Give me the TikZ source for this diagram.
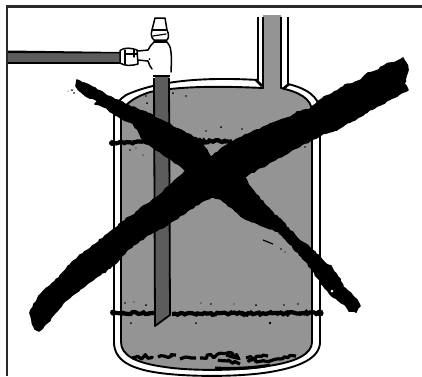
\documentclass[tikz,border=0pt]{standalone}
\usetikzlibrary{decorations.pathmorphing}
\definecolor{tankgray}{gray}{0.58}
\definecolor{pipegray}{gray}{0.36}
\definecolor{framegray}{gray}{0.16}
\tikzset{
  ink/.style={draw=black,line width=1.5pt,line join=round,line cap=round},
  wall/.style={draw=black,line width=1.9pt,line join=round},
  weld/.style={draw=black,line width=4.2pt,decorate,decoration={random steps,segment length=2pt,amplitude=1.1pt}},
  crud/.style={draw=black,line width=3.2pt,line join=round,decorate,decoration={random steps,segment length=3pt,amplitude=2pt}},
  speck/.style={fill=black,draw=none},
  slash/.style={fill=black,draw=black,line width=1.6pt,line join=round,decorate,decoration={random steps,segment length=3pt,amplitude=.8pt}}
}
\pgfmathsetseed{7}
\begin{document}
\begin{tikzpicture}[x=1pt,y=-1pt]
\useasboundingbox (0,0) rectangle (422,376);
\fill[white] (0,0) rectangle (422,376);
% frame
\fill[framegray] (6,5) rectangle (422,8);
\fill[framegray] (6,5) rectangle (8.2,376);
% tank outer wall, open at the neck
\draw[wall] (258,17) -- (258,80) .. controls (190,76) and (150,84) .. (126,95)
  .. controls (120,99) and (114,104) .. (114,118) -- (114,342)
  .. controls (114,360) and (130,369) .. (160,373) .. controls (190,377) and (240,377) .. (270,372)
  .. controls (300,367) and (320,358) .. (320,342) -- (320,112)
  .. controls (320,96) and (305,88) .. (288,84) -- (288,17);
% tank inner
\fill[tankgray] (121,342) -- (121,118) .. controls (121,106) and (132,98) .. (150,92)
  .. controls (180,86) and (220,86) .. (263,88) -- (263,15) -- (281,15) -- (281,88)
  .. controls (298,92) and (312,98) .. (312,112) -- (312,342)
  .. controls (312,354) and (296,362) .. (268,366) .. controls (240,371) and (190,371) .. (165,367)
  .. controls (135,363) and (121,355) .. (121,342) -- cycle;
\draw[wall] (263,17) -- (263,88) .. controls (220,86) and (180,86) .. (150,92)
  .. controls (132,98) and (121,106) .. (121,118) -- (121,342)
  .. controls (121,355) and (135,363) .. (165,367) .. controls (190,371) and (240,371) .. (268,366)
  .. controls (296,362) and (312,354) .. (312,342) -- (312,112)
  .. controls (312,98) and (298,92) .. (281,88) -- (281,17);
\draw[line width=2.6pt] (256,80) -- (262,86);
\draw[line width=2.6pt] (289,84) -- (283,89);
% welds
\draw[weld] (112,143) -- (150,142);
\draw[weld] (170,142) -- (232,141);
\draw[weld] (112,313) -- (155,313);
\draw[weld] (172,314) -- (322,313);
\fill[black] (112,143) circle (3pt) (113,312.5) circle (3pt) (320,313) circle (3.6pt);
% sediment
\draw[crud] (132,358) -- (152,356);
\draw[crud] (158,357) -- (176,355);
\draw[crud] (180,359) -- (186,357) -- (196,358);
\draw[crud] (200,358) -- (232,353) -- (238,358);
\draw[crud] (226,355) -- (240,358);
\draw[crud] (246,358) -- (268,356);
\draw[crud] (248,362) -- (280,359) -- (296,356);
\draw[crud] (218,360) -- (240,364);
\draw[line width=3pt] (215,368) .. controls (235,369) and (255,368) .. (270,365);
% specks
\foreach \p/\r in {{(147,103)}/1,{(146,96)}/.8,{(173,93)}/1,{(186,96)}/.8,{(130,150)}/.8,{(136,148)}/.6,{(143,155)}/.6,{(221,127)}/1,{(242,129)}/.8,{(206,131)}/.8,{(305,147)}/.8,{(125,303)}/.8,{(134,302)}/.6,{(146,305)}/1,{(131,323)}/1,{(196,323)}/1,{(211,304)}/.8,{(234,304)}/.6,{(256,305)}/1,{(284,305)}/.9,{(298,304)}/.8,{(270,323)}/1.4,{(201,303)}/.6,{(72,90)}/1,{(68,91)}/.5,{(74,93)}/.9}
  \fill[speck] \p circle (\r pt);
% dip tube
\fill[pipegray] (155,76) -- (169,76) -- (170,315) -- (155,326) -- cycle;
\draw[black,line width=1.8pt,line join=round] (169,78) -- (170,315) -- (155,326) -- (154,78);
\draw[black,line width=1.6pt] (153,76) -- (170,76);
% side pipe
\fill[pipegray] (8,53) rectangle (120,62);
\fill[black] (8,50.5) -- (120,52) -- (120,53.5) -- (8,53) -- cycle;
\fill[black] (8,62) -- (120,62) -- (120,64) -- (8,64) -- cycle;
% tee fitting
\draw[ink,fill=white] (120,50.5) .. controls (124,47) and (132,48) .. (137,50) -- (138,64) .. controls (132,66) and (124,66) .. (120,63) -- cycle;
\draw[ink,line width=1.2pt] (125,50) -- (125,64) (134,49.5) -- (134,57);
\draw[ink,line width=1.2pt] (125,54) -- (137,54);
\draw[ink] (138,51) -- (148,50) .. controls (150,47) and (151,44) .. (154,42);
\draw[ink] (138,60) -- (148,61) .. controls (149,64) and (150,67) .. (152,69);
\fill[black] (149.5,59) circle (1pt);
\draw[ink] (167,42) .. controls (171,46) and (172,52) .. (171,72);
\draw[ink,fill=white] (155,18) -- (165,18) -- (167,30) .. controls (169,34) and (169,38) .. (167,40) -- (154,40) .. controls (151,38) and (151,33) .. (152,30) -- cycle;
\draw[ink,line width=1.2pt] (152,30) -- (167,30);
\draw[ink,line width=1.2pt] (153,36) -- (166,34);
\draw[ink,line width=1.2pt] (154,42) -- (167,42);
% the X
\draw[slash] (77,80) -- (84,83) -- (92,87) -- (100,91) -- (107,96) -- (117,100) -- (128,105) -- (137,109) -- (147,113) -- (158,119) -- (167,123) -- (178,129) -- (188,134) -- (200,141) -- (208,153)
 -- (211,157) -- (220,150) -- (231,142) -- (240,138) -- (251,133) -- (262,128) -- (276,122) -- (291,117) -- (297,112) -- (308,110) -- (316,104) -- (324,97) -- (330,95) -- (341,88) -- (345,85) -- (352,84) -- (361,80) -- (368,73) -- (376,71) -- (384,66) -- (391,63) -- (398,61) -- (403,58) -- (406,63) -- (408,70) -- (406,76) -- (404,84) -- (408,90)
 -- (395,97) -- (380,105) -- (365,113) -- (350,122) -- (335,130) -- (321,135) -- (300,146) -- (280,157) -- (262,167) -- (244,177)
 -- (251,188) -- (264,204) -- (278,218) -- (288,228) -- (298,239) -- (310,248) -- (318,255) -- (326,264) -- (331,266) -- (334,272) -- (340,279) -- (343,287) -- (352,295) -- (358,302) -- (360,306) -- (356,312) -- (349,311) -- (344,304) -- (338,300) -- (330,294) -- (325,288) -- (318,278) -- (311,268) -- (302,257) -- (290,244) -- (278,231) -- (263,226) -- (244,218) -- (231,207) -- (222,200) -- (211,197)
 -- (190,209) -- (167,225) -- (150,234) -- (133,245) -- (120,258) -- (110,268) -- (95,278) -- (80,289) -- (65,301) -- (57,311) -- (48,322) -- (39,331) -- (35,329) -- (32,320) -- (30,313) -- (34,304) -- (40,295) -- (50,286) -- (60,276) -- (70,265) -- (80,255) -- (88,250) -- (96,244) -- (105,236) -- (113,230) -- (122,222) -- (132,216) -- (141,208) -- (150,203) -- (160,195) -- (168,187) -- (178,178) -- (187,171) -- (178,164) -- (167,157) -- (155,149) -- (143,140) -- (139,132) -- (133,123) -- (123,119) -- (113,113) -- (107,108) -- (95,104) -- (98,101) -- (88,97) -- (80,91) -- (76,86) -- cycle;
% breakaway at lower right of stroke
\fill[tankgray] (262,229) .. controls (268,230) and (272,233) .. (270,236) .. controls (264,235) and (260,233) .. (258,231) -- cycle;
\draw[black,line width=1.2pt] (263,240) -- (273,244);
\fill[speck] (281,249) circle (.8pt) (285,252) circle (.7pt);
\fill[black] (354,306) circle (4.5pt);
\fill[white] (332,291) circle (1.5pt);
\end{tikzpicture}
\end{document}
